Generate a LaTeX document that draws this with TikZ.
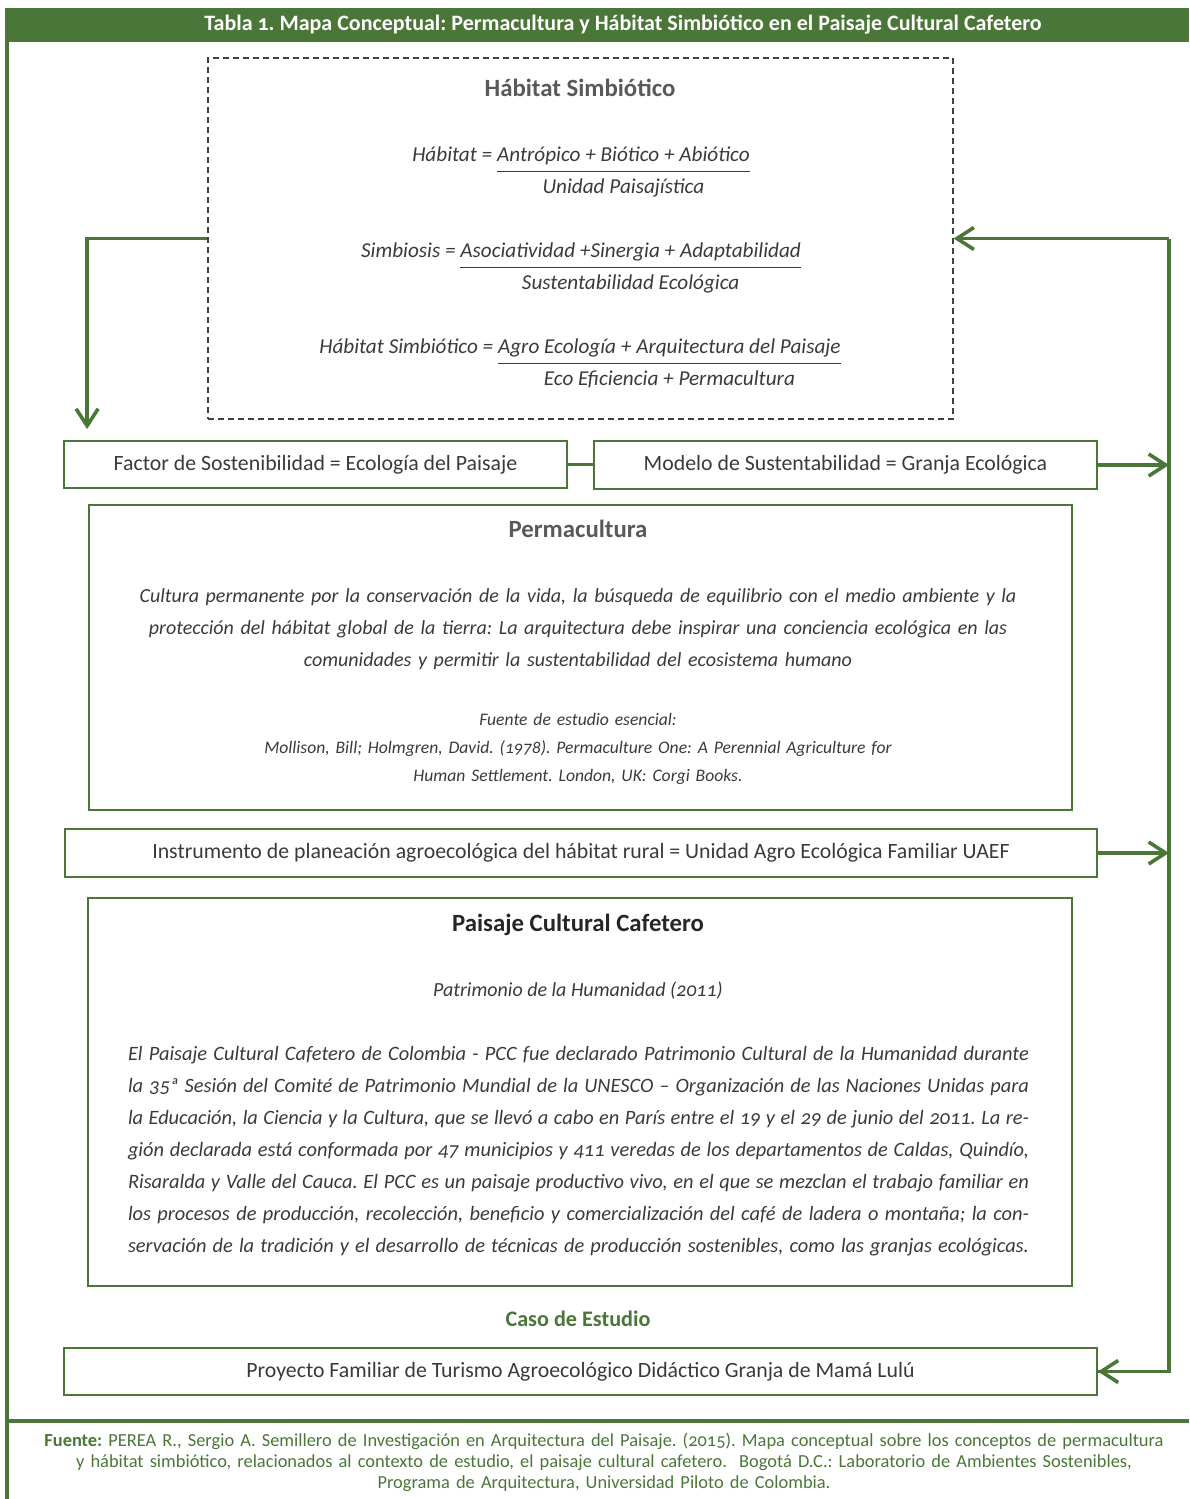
\documentclass[tikz,border=0pt]{standalone}
\usepackage{fontspec}
\setmainfont{Carlito}[Numbers=OldStyle]
\usetikzlibrary{arrows.meta}
\definecolor{verde}{HTML}{4A7637}
\definecolor{gristexto}{HTML}{3A3A3A}
\definecolor{gristitulo}{HTML}{595959}
\tikzset{
  caja/.style={draw=verde, line width=0.9pt, inner sep=0pt, text=gristexto, font=\fontsize{10.9}{12}\selectfont},
  punteada/.style={draw=black!75, dash pattern=on 3pt off 2pt, line width=0.6pt, inner sep=0pt},
  titulo/.style={anchor=base, inner sep=0pt, text=gristitulo, font=\bfseries\fontsize{12.4}{14}\selectfont},
  formula/.style={anchor=base, inner sep=0pt, text=gristexto, font=\itshape\fontsize{10.6}{12}\selectfont},
  parrafo/.style={anchor=base, inner sep=0pt, text=gristexto, font=\itshape\fontsize{10}{16}\selectfont},
  nota/.style={anchor=base, inner sep=0pt, text=gristexto, font=\itshape\fontsize{8.8}{14}\selectfont},
  linea/.style={draw=verde, line width=1.8pt},
  flecha/.style={linea, -{Straight Barb[length=8.5pt,width=11pt]}},
  marco/.style={draw=verde, line width=2pt}
}
\renewcommand{\arraystretch}{1.33}
\frenchspacing
\begin{document}
\begin{tikzpicture}[x=0.5pt,y=-0.5pt]
%%%%% MARCO %%%%%
\useasboundingbox (0,0) rectangle (1189,1499);
\fill[verde] (5,8) rectangle (1189,42);
\draw[marco] (6.5,8) -- (6.5,1499);
\draw[marco] (6.5,1421) -- (1189,1421);
\node[anchor=base, inner sep=0pt, text=white, font=\bfseries\fontsize{11}{12}\selectfont] (titulo) at (623,30)
  {Tabla 1. Mapa Conceptual: Permacultura y Hábitat Simbiótico en el Paisaje Cultural Cafetero};

%%%%% HABITAT SIMBIOTICO %%%%%
\node[punteada, minimum width=372.5pt, minimum height=180.5pt] (habitat) at (580.5,238.5) {};
\node[titulo] (tHabitat) at (580,96) {Hábitat Simbiótico};
\node[formula] (fHabitat) at (581,161)
  {Hábitat = \begin{tabular}[t]{@{}c@{}}Antrópico + Biótico + Abiótico\\\hline Unidad Paisajística\end{tabular}};
\node[formula] (fSimbiosis) at (581,257)
  {Simbiosis = \begin{tabular}[t]{@{}c@{}}Asociatividad +Sinergia + Adaptabilidad\\\hline Sustentabilidad Ecológica\end{tabular}};
\node[formula] (fHabSim) at (580,353)
  {Hábitat Simbiótico = \begin{tabular}[t]{@{}c@{}}Agro Ecología + Arquitectura del Paisaje\\\hline Eco Eficiencia + Permacultura\end{tabular}};

%%%%% FACTOR Y MODELO %%%%%
\node[caja, minimum width=251.5pt, minimum height=23.5pt] (factor) at (315.5,464.5)
  {Factor de Sostenibilidad = Ecología del Paisaje};
\node[caja, minimum width=251.5pt, minimum height=24pt] (modelo) at (845.5,465)
  {Modelo de Sustentabilidad = Granja Ecológica};

%%%%% PERMACULTURA %%%%%
\node[caja, minimum width=491.5pt, minimum height=152.5pt] (permacultura) at (580.5,657.5) {};
\node[titulo] (tPerma) at (578,537) {Permacultura};
\node[parrafo, text width=480pt, align=center] (dPerma) at (578,602)
  {Cultura permanente por la conservación de la vida, la búsqueda de equilibrio con el medio ambiente y la\\
   protección del hábitat global de la tierra: La arquitectura debe inspirar una conciencia ecológica en las\\
   comunidades y permitir la sustentabilidad del ecosistema humano};
\node[nota, text width=420pt, align=center] (fPerma) at (578,725)
  {Fuente de estudio esencial:\\
   Mollison, Bill; Holmgren, David. (1978). Permaculture One: A Perennial Agriculture for\\
   Human Settlement. London, UK: Corgi Books.};

%%%%% UAEF %%%%%
\node[caja, minimum width=516pt, minimum height=24pt] (uaef) at (581,853)
  {Instrumento de planeación agroecológica del hábitat rural = Unidad Agro Ecológica Familiar UAEF};

%%%%% PAISAJE CULTURAL CAFETERO %%%%%
\node[caja, minimum width=492pt, minimum height=194pt] (paisaje) at (580,1092) {};
\node[titulo, text=black!85] (tPaisaje) at (578,931) {Paisaje Cultural Cafetero};
\node[parrafo] (patrimonio) at (578,996) {Patrimonio de la Humanidad (2011)};
\node[parrafo, font=\itshape\fontsize{10.2}{16}\selectfont, text width=450.5pt, align=justify] (dPaisaje) at (578.5,1060)
  {El Paisaje Cultural Cafetero de Colombia - PCC fue declarado Patrimonio Cultural de la Humanidad durante\linebreak
   la 35ª Sesión del Comité de Patrimonio Mundial de la UNESCO – Organización de las Naciones Unidas para\linebreak
   la Educación, la Ciencia y la Cultura, que se llevó a cabo en París entre el 19 y el 29 de junio del 2011. La re-\linebreak
   gión declarada está conformada por 47 municipios y 411 veredas de los departamentos de Caldas, Quindío,\linebreak
   Risaralda y Valle del Cauca. El PCC es un paisaje productivo vivo, en el que se mezclan el trabajo familiar en\linebreak
   los procesos de producción, recolección, beneficio y comercialización del café de ladera o montaña; la con-\linebreak
   servación de la tradición y el desarrollo de técnicas de producción sostenibles, como las granjas ecológicas.\linebreak};

%%%%% CASO DE ESTUDIO %%%%%
\node[titulo, text=verde, font=\bfseries\fontsize{11.1}{13}\selectfont] (tCaso) at (578,1326) {Caso de Estudio};
\node[caja, minimum width=516.5pt, minimum height=23.5pt] (proyecto) at (580.5,1371.5)
  {Proyecto Familiar de Turismo Agroecológico Didáctico Granja de Mamá Lulú};

%%%%% FUENTE %%%%%
\node[anchor=base, inner sep=0pt, text=verde, text width=580pt, align=center, font=\fontsize{9.2}{10.5}\selectfont] (fuente) at (604,1446)
  {\textbf{Fuente:} PEREA R., Sergio A. Semillero de Investigación en Arquitectura del Paisaje. (2015). Mapa conceptual sobre los conceptos de permacultura\\
   y hábitat simbiótico, relacionados al contexto de estudio, el paisaje cultural cafetero.~ Bogotá D.C.: Laboratorio de Ambientes Sostenibles,\\
   Programa de Arquitectura, Universidad Piloto de Colombia.};

%%%%% CONECTORES %%%%%
\coordinate (retorno) at (1169,240);
\draw[flecha, shorten >=5.5pt] (habitat.west) -| ([xshift=12pt]factor.north west);
\draw[linea] (factor.east) -- (factor.east -| modelo.west);
\draw[linea] (habitat.east -| retorno) -- (proyecto.east -| retorno) -- (proyecto.east);
\draw[flecha] (proyecto.east -| retorno) -- (proyecto.east);
\draw[flecha] (habitat.east -| retorno) -- (habitat.east);
\draw[flecha] (modelo.east) -- (modelo.east -| retorno);
\draw[flecha] (uaef.east) -- (uaef.east -| retorno);
\end{tikzpicture}
\end{document}
